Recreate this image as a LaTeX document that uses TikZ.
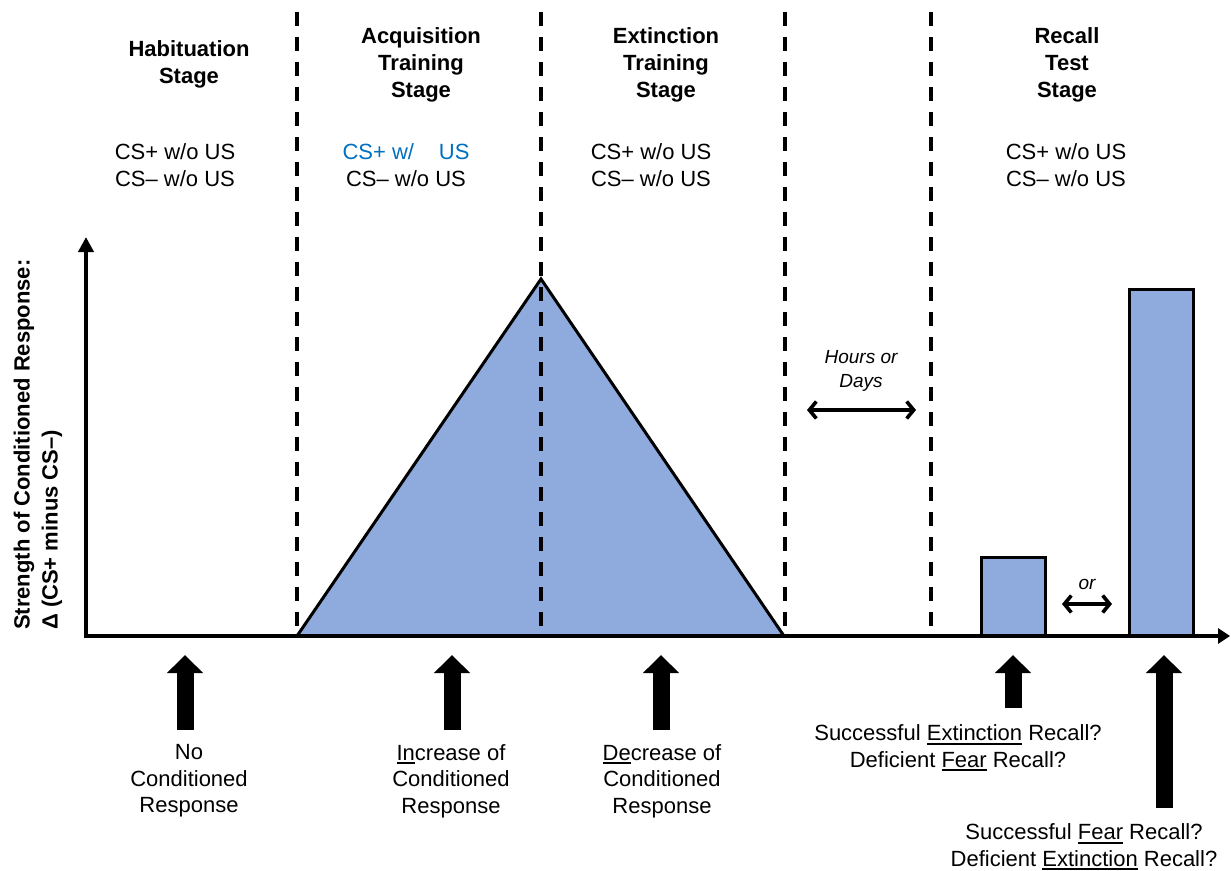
\documentclass[tikz,border=0pt]{standalone}
\usepackage{fontspec}
\setmainfont{Liberation Sans}
\usetikzlibrary{arrows.meta}
\definecolor{stagefill}{HTML}{8FAADC}
\definecolor{csblue}{HTML}{0070C0}
% underline drawn as a thick rule under a word
\newcommand{\ulword}[1]{\setbox0\hbox{#1}\rlap{\rule[-4pt]{\wd0}{1.8pt}}\box0\relax}

\begin{document}
\begin{tikzpicture}[x=1pt,y=-1pt,
  hdr/.style={font=\fontsize{22}{27}\selectfont\bfseries, align=center, inner sep=0pt},
  body/.style={font=\fontsize{22}{26.5}\selectfont, align=center, inner sep=0pt},
  note/.style={font=\fontsize{19}{24}\selectfont\itshape, align=center, inner sep=0pt},
  divider/.style={line width=3.7pt, dash pattern=on 14pt off 11pt},
  axisline/.style={line width=4pt},
  areafill/.style={draw=black, line width=3pt, fill=stagefill, line join=miter},
  bigarrow/.style={line width=17pt, -{Triangle[width=35pt,length=18pt]}},
  gaparrow/.style={line width=3.6pt, {Straight Barb[length=7pt,width=17pt]}-{Straight Barb[length=7pt,width=17pt]}},
]
\path[use as bounding box] (0,0) rectangle (1231,870);

% response curve and recall bars
\coordinate (t1) at (297,636);
\coordinate (t2) at (541,279);
\coordinate (t3) at (784,636);
\filldraw[areafill] (t1) -- (t2) -- (t3) -- cycle;
\filldraw[areafill] (981,636) rectangle (1045,557);
\filldraw[areafill] (1129,636) rectangle (1193,289);

% stage dividers
\foreach \x [count=\i] in {297,541,785,931} {
  \coordinate (d\i top) at (\x,12);
  \coordinate (d\i bot) at (\x,636);
  \draw[divider] (d\i top) -- (d\i bot);
}

% axes
\coordinate (origin) at (86,636);
\coordinate (ytip) at (86,237);
\coordinate (xtip) at (1230,636);
\draw[axisline, -{Triangle[width=15pt,length=15pt]}] (origin) -- (ytip);
\draw[axisline, -{Triangle[width=15pt,length=12pt]}] ([xshift=-2pt]origin) -- (xtip);

% axis label
\node[font=\fontsize{22}{28}\selectfont\bfseries, align=left, rotate=90, anchor=west, inner sep=0pt]
  (ylabel) at (38,630) {Strength of Conditioned Response:\\Δ (CS+ minus CS--)};

% stage headers
\node[hdr] (habH) at (189,64) {Habituation\\Stage};
\node[hdr] (acqH) at (421,65) {Acquisition\\Training\\Stage};
\node[hdr] (extH) at (666,65) {Extinction\\Training\\Stage};
\node[hdr] (recH) at (1067,65) {Recall\\Test\\Stage};

% stimulus conditions
\node[body] (habS) at (175,165) {CS+ w/o US\\CS-- w/o US};
\node[body] (acqS) at (406,165) {\textcolor{csblue}{CS+ w/\hspace{0.85em} US}\\CS-- w/o US};
\node[body] (extS) at (651,165) {CS+ w/o US\\CS-- w/o US};
\node[body] (recS) at (1066,165) {CS+ w/o US\\CS-- w/o US};

% time gap before recall
\node[note] (gap) at (861,371) {Hours or\\Days};
\coordinate (gapL) at (807,410);
\coordinate (gapR) at (916,410);
\draw[gaparrow] (gapL) -- (gapR);

\node[note] (orlbl) at (1087,584) {or};
\coordinate (orL) at (1062,604);
\coordinate (orR) at (1112,604);
\draw[gaparrow] (orL) -- (orR);

% outcome pointers
\foreach \name/\x/\y in {p1/185/730, p2/452/730, p3/661/730, p4/1013/708, p5/1164/808} {
  \coordinate (\name base) at (\x,\y);
  \coordinate (\name tip) at (\x,655);
  \draw[bigarrow] (\name base) -- (\name tip);
}

% outcome descriptions
\node[body] (o1) at (189,781) {No\\Conditioned\\Response};
\node[body] (o2) at (451,781) {\ulword{In}crease of\\Conditioned\\Response};
\node[body] (o3) at (662,781) {\ulword{De}crease of\\Conditioned\\Response};
\node[body] (o4) at (958,748) {Successful \ulword{Extinction} Recall?\\Deficient \ulword{Fear} Recall?};
\node[body] (o5) at (1084,847) {Successful \ulword{Fear} Recall?\\Deficient \ulword{Extinction} Recall?};
\end{tikzpicture}
\end{document}
